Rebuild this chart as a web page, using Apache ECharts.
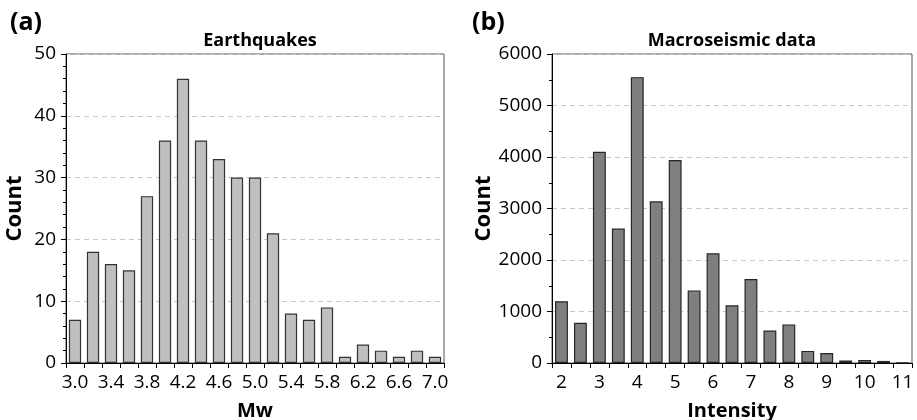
<!DOCTYPE html>
<html>
<head>
<meta charset="utf-8">
<script src="https://cdn.jsdelivr.net/npm/echarts@6/dist/echarts.min.js"></script>
<style>
  html, body { margin: 0; padding: 0; background: #fff; }
  #chart { width: 917px; height: 420px; }
</style>
</head>
<body>
<div id="chart"></div>
<script>
// (a) earthquakes by magnitude
const mwBins = ['3.0', '3.2', '3.4', '3.6', '3.8', '4.0', '4.2', '4.4', '4.6', '4.8', '5.0',
  '5.2', '5.4', '5.6', '5.8', '6.0', '6.2', '6.4', '6.6', '6.8', '7.0'];
const mwCounts = [7, 18, 16, 15, 27, 36, 46, 36, 33, 30, 30, 21, 8, 7, 9, 1, 3, 2, 1, 2, 1];

// (b) macroseismic observations by intensity
const intensityBins = ['2', '2.5', '3', '3.5', '4', '4.5', '5', '5.5', '6', '6.5', '7',
  '7.5', '8', '8.5', '9', '9.5', '10', '10.5', '11'];
const intensityCounts = [1200, 780, 4100, 2610, 5550, 3140, 3940, 1410, 2130, 1120, 1630,
  630, 750, 235, 195, 50, 60, 40, 10];

const FONT = '"Open Sans", sans-serif';

const chart = echarts.init(document.getElementById('chart'));

const xAxisBase = {
  type: 'category',
  axisLine: { show: true, lineStyle: { color: '#000', width: 1 } },
  axisTick: { show: true, interval: 0, length: 5, lineStyle: { color: '#000' } },
  axisLabel: { interval: 1, color: '#000', fontSize: 19, fontFamily: FONT, margin: 10 },
  splitLine: { show: false },
  nameLocation: 'middle',
  nameGap: 38,
  nameTextStyle: { color: '#000', fontSize: 20, fontWeight: 'bold', fontFamily: FONT }
};

const yAxisBase = {
  type: 'value',
  min: 0,
  axisLine: { show: true, lineStyle: { color: '#000', width: 1 } },
  axisTick: { show: true, length: 5, lineStyle: { color: '#000' } },
  axisLabel: { color: '#000', fontSize: 19, fontFamily: FONT, margin: 10, formatter: v => String(v) },
  splitLine: { show: true, lineStyle: { color: '#c8c8c8', type: [5, 4] } },
  nameLocation: 'middle',
  nameTextStyle: { color: '#000', fontSize: 22, fontWeight: 'bold', fontFamily: FONT }
};

const option = {
  animation: false,
  backgroundColor: '#fff',
  title: [
    { text: '(a)', left: 5, top: 5, textStyle: { fontSize: 25, fontWeight: 'bold', fontFamily: FONT, color: '#000' } },
    { text: 'Earthquakes', left: 255, top: 27, textAlign: 'center', textStyle: { fontSize: 18, fontWeight: 'bold', fontFamily: FONT, color: '#000' } },
    { text: '(b)', left: 467, top: 5, textStyle: { fontSize: 25, fontWeight: 'bold', fontFamily: FONT, color: '#000' } },
    { text: 'Macroseismic data', left: 727, top: 27, textAlign: 'center', textStyle: { fontSize: 18, fontWeight: 'bold', fontFamily: FONT, color: '#000' } }
  ],
  grid: [
    { left: 66, top: 54, width: 378, height: 309, outerBoundsMode: 'none', containLabel: false,
      show: true, borderColor: '#555', borderWidth: 1, backgroundColor: 'transparent' },
    { left: 552, top: 54, width: 360, height: 309, outerBoundsMode: 'none', containLabel: false,
      show: true, borderColor: '#555', borderWidth: 1, backgroundColor: 'transparent' }
  ],
  xAxis: [
    Object.assign({}, xAxisBase, { gridIndex: 0, data: mwBins, name: 'Mw' }),
    Object.assign({}, xAxisBase, { gridIndex: 1, data: intensityBins, name: 'Intensity' })
  ],
  yAxis: [
    Object.assign({}, yAxisBase, { gridIndex: 0, max: 50, interval: 10, name: 'Count', nameGap: 40,
      minorTick: { show: true, splitNumber: 5, length: 3, lineStyle: { color: '#000' } } }),
    Object.assign({}, yAxisBase, { gridIndex: 1, max: 6000, interval: 1000, name: 'Count', nameGap: 57,
      minorTick: { show: true, splitNumber: 2, length: 3, lineStyle: { color: '#000' } } })
  ],
  series: [
    {
      type: 'bar',
      xAxisIndex: 0,
      yAxisIndex: 0,
      data: mwCounts,
      barCategoryGap: '32%',
      itemStyle: { color: '#bfbfbf', borderColor: '#333', borderWidth: 1.2 }
    },
    {
      type: 'bar',
      xAxisIndex: 1,
      yAxisIndex: 1,
      data: intensityCounts,
      barCategoryGap: '32%',
      itemStyle: { color: '#7f7f7f', borderColor: '#262626', borderWidth: 1.2 }
    }
  ]
};

chart.setOption(option);
</script>
</body>
</html>
